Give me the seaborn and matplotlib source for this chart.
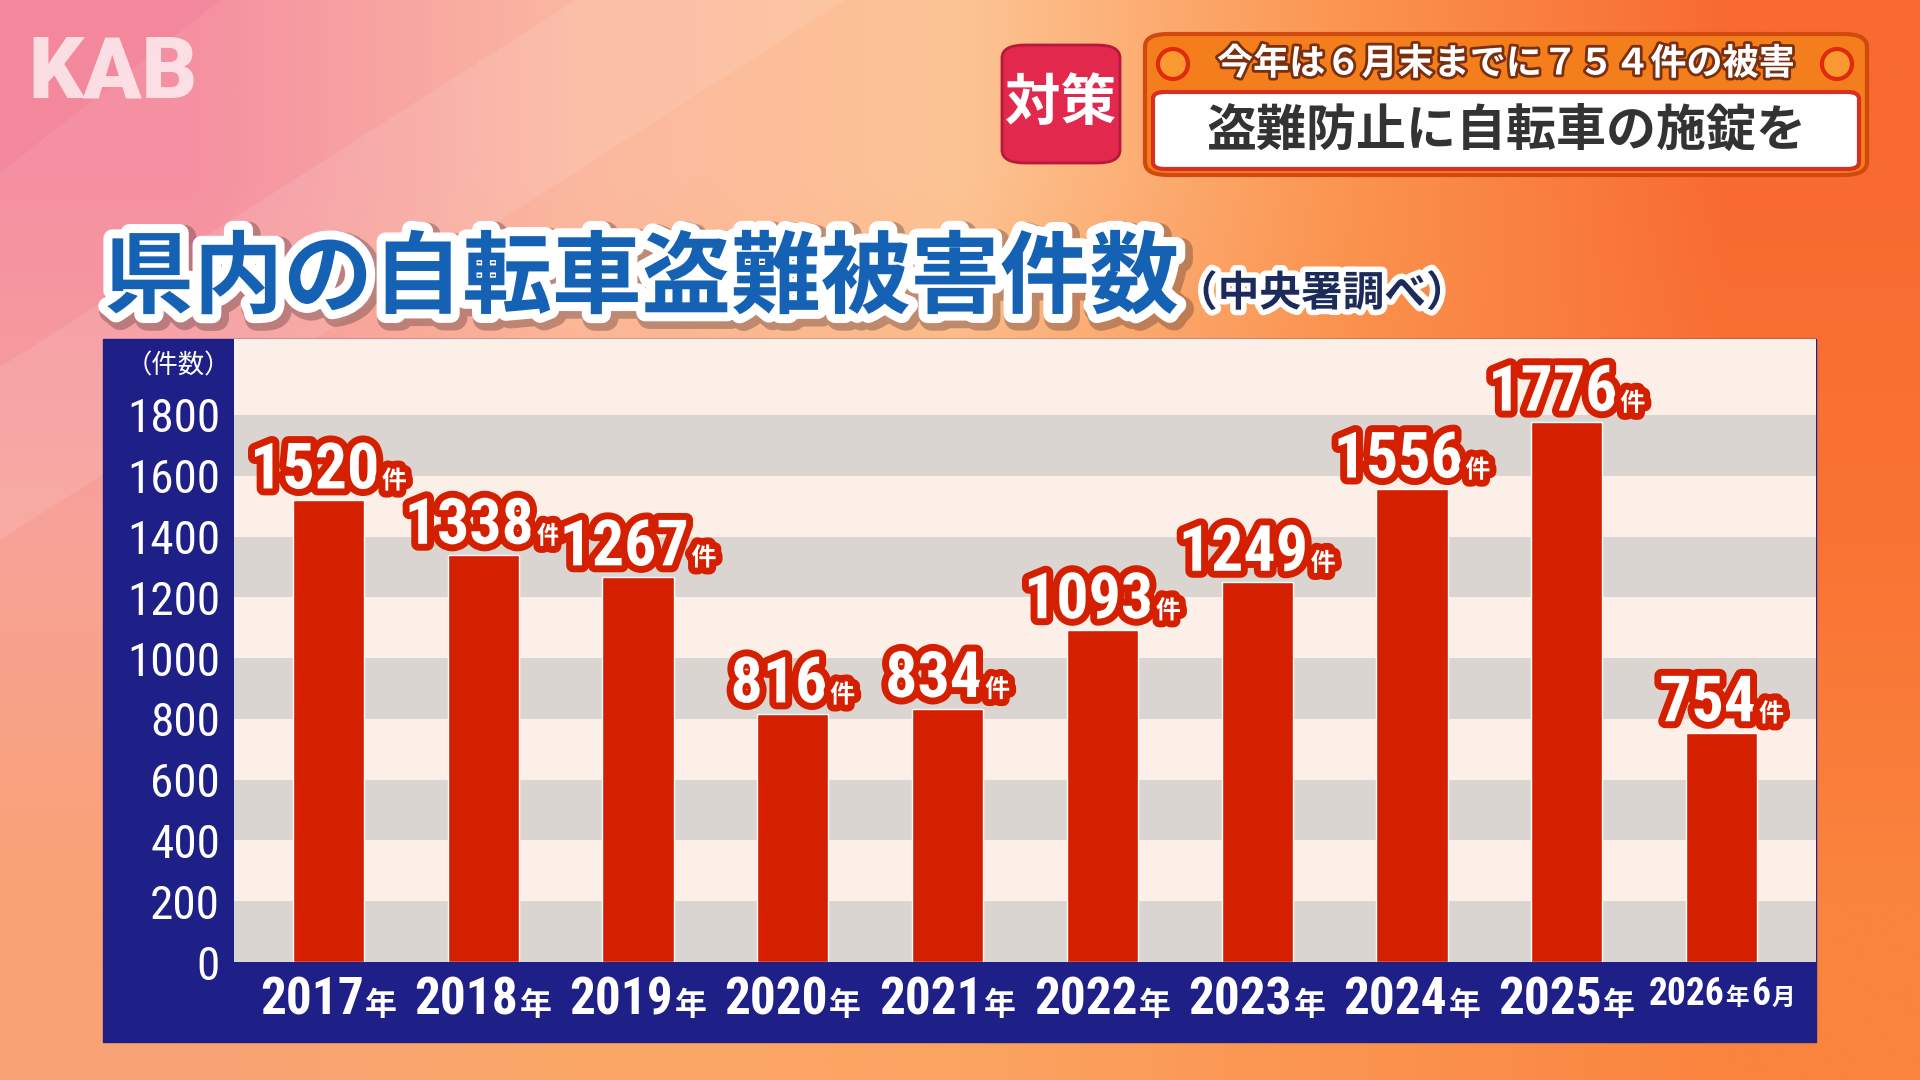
import numpy as np
import pandas as pd
import seaborn as sns
import matplotlib.pyplot as plt
import matplotlib.patheffects as pe
from matplotlib.patches import FancyBboxPatch, Rectangle, Ellipse, Polygon
from matplotlib.offsetbox import TextArea, HPacker, AnnotationBbox
from matplotlib.colors import to_rgb

years = ['2017', '2018', '2019', '2020', '2021', '2022', '2023', '2024', '2025', '2026']
year_suffix = [['年']] * 9 + [['年', '6', '月']]
counts = [1520, 1338, 1267, 816, 834, 1093, 1249, 1556, 1776, 754]
y_ticks = [0, 200, 400, 600, 800, 1000, 1200, 1400, 1600, 1800]
band_starts = [0, 400, 800, 1200, 1600]

title = '県内の自転車盗難被害件数'
source = '（中央署調べ）'
unit_label = '（件数）'
head_top = '今年は６月末までに７５４件の被害'
head_main = '盗難防止に自転車の施錠を'
tag = '対策'
logo = 'KAB'

sns.set_style('white')
JP = ['Noto Sans CJK JP', 'DejaVu Sans']
NUM = ['Roboto Condensed', 'Liberation Sans Narrow', 'Roboto', 'DejaVu Sans']
plt.rcParams['font.family'] = JP

W, H = 1920, 1080
def fx(px):
    return px / W
def fy(py):
    return 1 - py / H

fig = plt.figure(figsize=(19.2, 10.8), dpi=100)

# background gradient
bg_rows = [
    ['#f590a2', '#fbb8a0', '#fdc494', '#fb9550', '#f86a30'],
    ['#f8a398', '#fcb48a', '#fcb07a', '#fb8e4c', '#f97434'],
    ['#f9a275', '#fca868', '#fca462', '#fb9450', '#fa843e'],
]
bg = fig.add_axes([0, 0, 1, 1], zorder=-10)
grid = np.array([[to_rgb(c) for c in row] for row in bg_rows])
bg.imshow(grid, extent=[0, 1, 0, 1], aspect='auto', interpolation='bilinear')
bg.add_patch(Polygon([(0, 1), (0.115, 1), (0, 0.84)], color='#f27f98', alpha=0.45, lw=0))
bg.add_patch(Polygon([(0.30, 1), (0.44, 1), (0, 0.50), (0, 0.66)], color='white', alpha=0.10, lw=0))
bg.set_xlim(0, 1)
bg.set_ylim(0, 1)
bg.axis('off')

# logo
fig.text(fx(28), fy(98), logo, fontsize=62, fontweight='heavy', family=['Roboto', 'DejaVu Sans'],
         color='#fdeef0', alpha=0.85, va='baseline', ha='left')

# navy frame behind the chart
fig.add_artist(Rectangle((fx(103), fy(1042)), fx(1816) - fx(103), fy(339) - fy(1042),
                         transform=fig.transFigure, color='#1e2088', zorder=-5))

# chart
ax = fig.add_axes([fx(234), fy(962), fx(1816) - fx(234), fy(339) - fy(962)])
ax.set_facecolor('#fcefe8')
for b in band_starts:
    ax.axhspan(b, b + 200, color='#dbd5d1', lw=0, zorder=0)

df = pd.DataFrame({'year': years, 'count': counts})
sns.barplot(data=df, x='year', y='count', color='#d42000', saturation=1, width=0.46,
            ax=ax, zorder=2)
ax.set_xlim(-0.61, 9.61)
ax.set_ylim(0, 2050)
ax.set_yticks(y_ticks)
ax.set_yticklabels([str(t) for t in y_ticks], family=NUM)
ax.tick_params(axis='y', colors='white', labelsize=34, length=0, pad=10)
ax.set_xticks(range(len(years)))
ax.set_xticklabels([''] * len(years))
ax.tick_params(axis='x', length=0)
ax.set_xlabel('')
ax.set_ylabel('')
for s in ax.spines.values():
    s.set_visible(False)

red_edge = [pe.Stroke(linewidth=10, foreground='#d42000'), pe.Normal()]
for i, v in enumerate(counts):
    num = TextArea(str(v), textprops=dict(fontsize=46, fontweight='bold', family=NUM,
                                          color='white', path_effects=red_edge))
    ken = TextArea('件', textprops=dict(fontsize=18, fontweight='bold', family=JP,
                                        color='white', path_effects=red_edge))
    box = HPacker(children=[num, ken], align='baseline', pad=0, sep=2)
    ab = AnnotationBbox(box, (i, v), xybox=(0, -1), xycoords='data', boxcoords='offset points',
                        box_alignment=(0.5, 0), frameon=False, annotation_clip=False, zorder=5)
    ax.add_artist(ab)

for i, (y, suf) in enumerate(zip(years, year_suffix)):
    big = 37 if len(suf) == 1 else 27
    small = 23 if len(suf) == 1 else 17
    parts = [TextArea(y, textprops=dict(fontsize=big, fontweight='bold', family=NUM, color='white'))]
    for p in suf:
        if p.isdigit():
            parts.append(TextArea(p, textprops=dict(fontsize=big, fontweight='bold', family=NUM, color='white')))
        else:
            parts.append(TextArea(p, textprops=dict(fontsize=small, fontweight='bold', family=JP, color='white')))
    box = HPacker(children=parts, align='baseline', pad=0, sep=1)
    ab = AnnotationBbox(box, (i, 0), xybox=(0, -10), xycoords='data', boxcoords='offset points',
                        box_alignment=(0.5, 1), frameon=False, annotation_clip=False, zorder=5)
    ax.add_artist(ab)

fig.text(fx(178), fy(366), unit_label, fontsize=19, color='white', ha='center', va='center')

# title
title_fx = [pe.Stroke(linewidth=18, foreground=(0.3, 0.2, 0.2, 0.35), offset=(3, -3)),
            pe.Stroke(linewidth=13, foreground='white'), pe.Normal()]
fig.text(fx(104), fy(306), title, fontsize=64.5, fontweight='bold', color='#1562b5',
         ha='left', va='baseline', path_effects=title_fx)
fig.text(fx(1176), fy(306), source, fontsize=30, fontweight='bold', color='#1c2a5c',
         ha='left', va='baseline',
         path_effects=[pe.Stroke(linewidth=8, foreground='white'), pe.Normal()])

# headline banner
fig.add_artist(FancyBboxPatch((fx(1002), fy(163)), fx(1120) - fx(1002), fy(45) - fy(163),
                              boxstyle='round,pad=0,rounding_size=0.012', transform=fig.transFigure,
                              fc='#e3284e', ec='#b8183a', lw=2))
fig.text(fx(1061), fy(104), tag, fontsize=40, fontweight='bold', color='white',
         ha='center', va='center')
fig.add_artist(FancyBboxPatch((fx(1145), fy(175)), fx(1867) - fx(1145), fy(34) - fy(175),
                              boxstyle='round,pad=0,rounding_size=0.012', transform=fig.transFigure,
                              fc='#f47d1c', ec='#d04a10', lw=3))
fig.add_artist(FancyBboxPatch((fx(1153), fy(169)), fx(1859) - fx(1153), fy(92) - fy(169),
                              boxstyle='round,pad=0,rounding_size=0.006', transform=fig.transFigure,
                              fc='white', ec='#d83020', lw=3))
for cx in (1173, 1837):
    fig.add_artist(Ellipse((fx(cx), fy(64)), 30 / W, 30 / H, transform=fig.transFigure,
                           fc='#f89a30', ec='#e02a10', lw=3))
fig.text(fx(1506), fy(64), head_top, fontsize=26, fontweight='bold', color='white',
         ha='center', va='center',
         path_effects=[pe.Stroke(linewidth=4, foreground='#7a3010'), pe.Normal()])
fig.text(fx(1506), fy(131), head_main, fontsize=36, fontweight='bold', color='#333333',
         ha='center', va='center')

fig.savefig('out.png', dpi=100)
